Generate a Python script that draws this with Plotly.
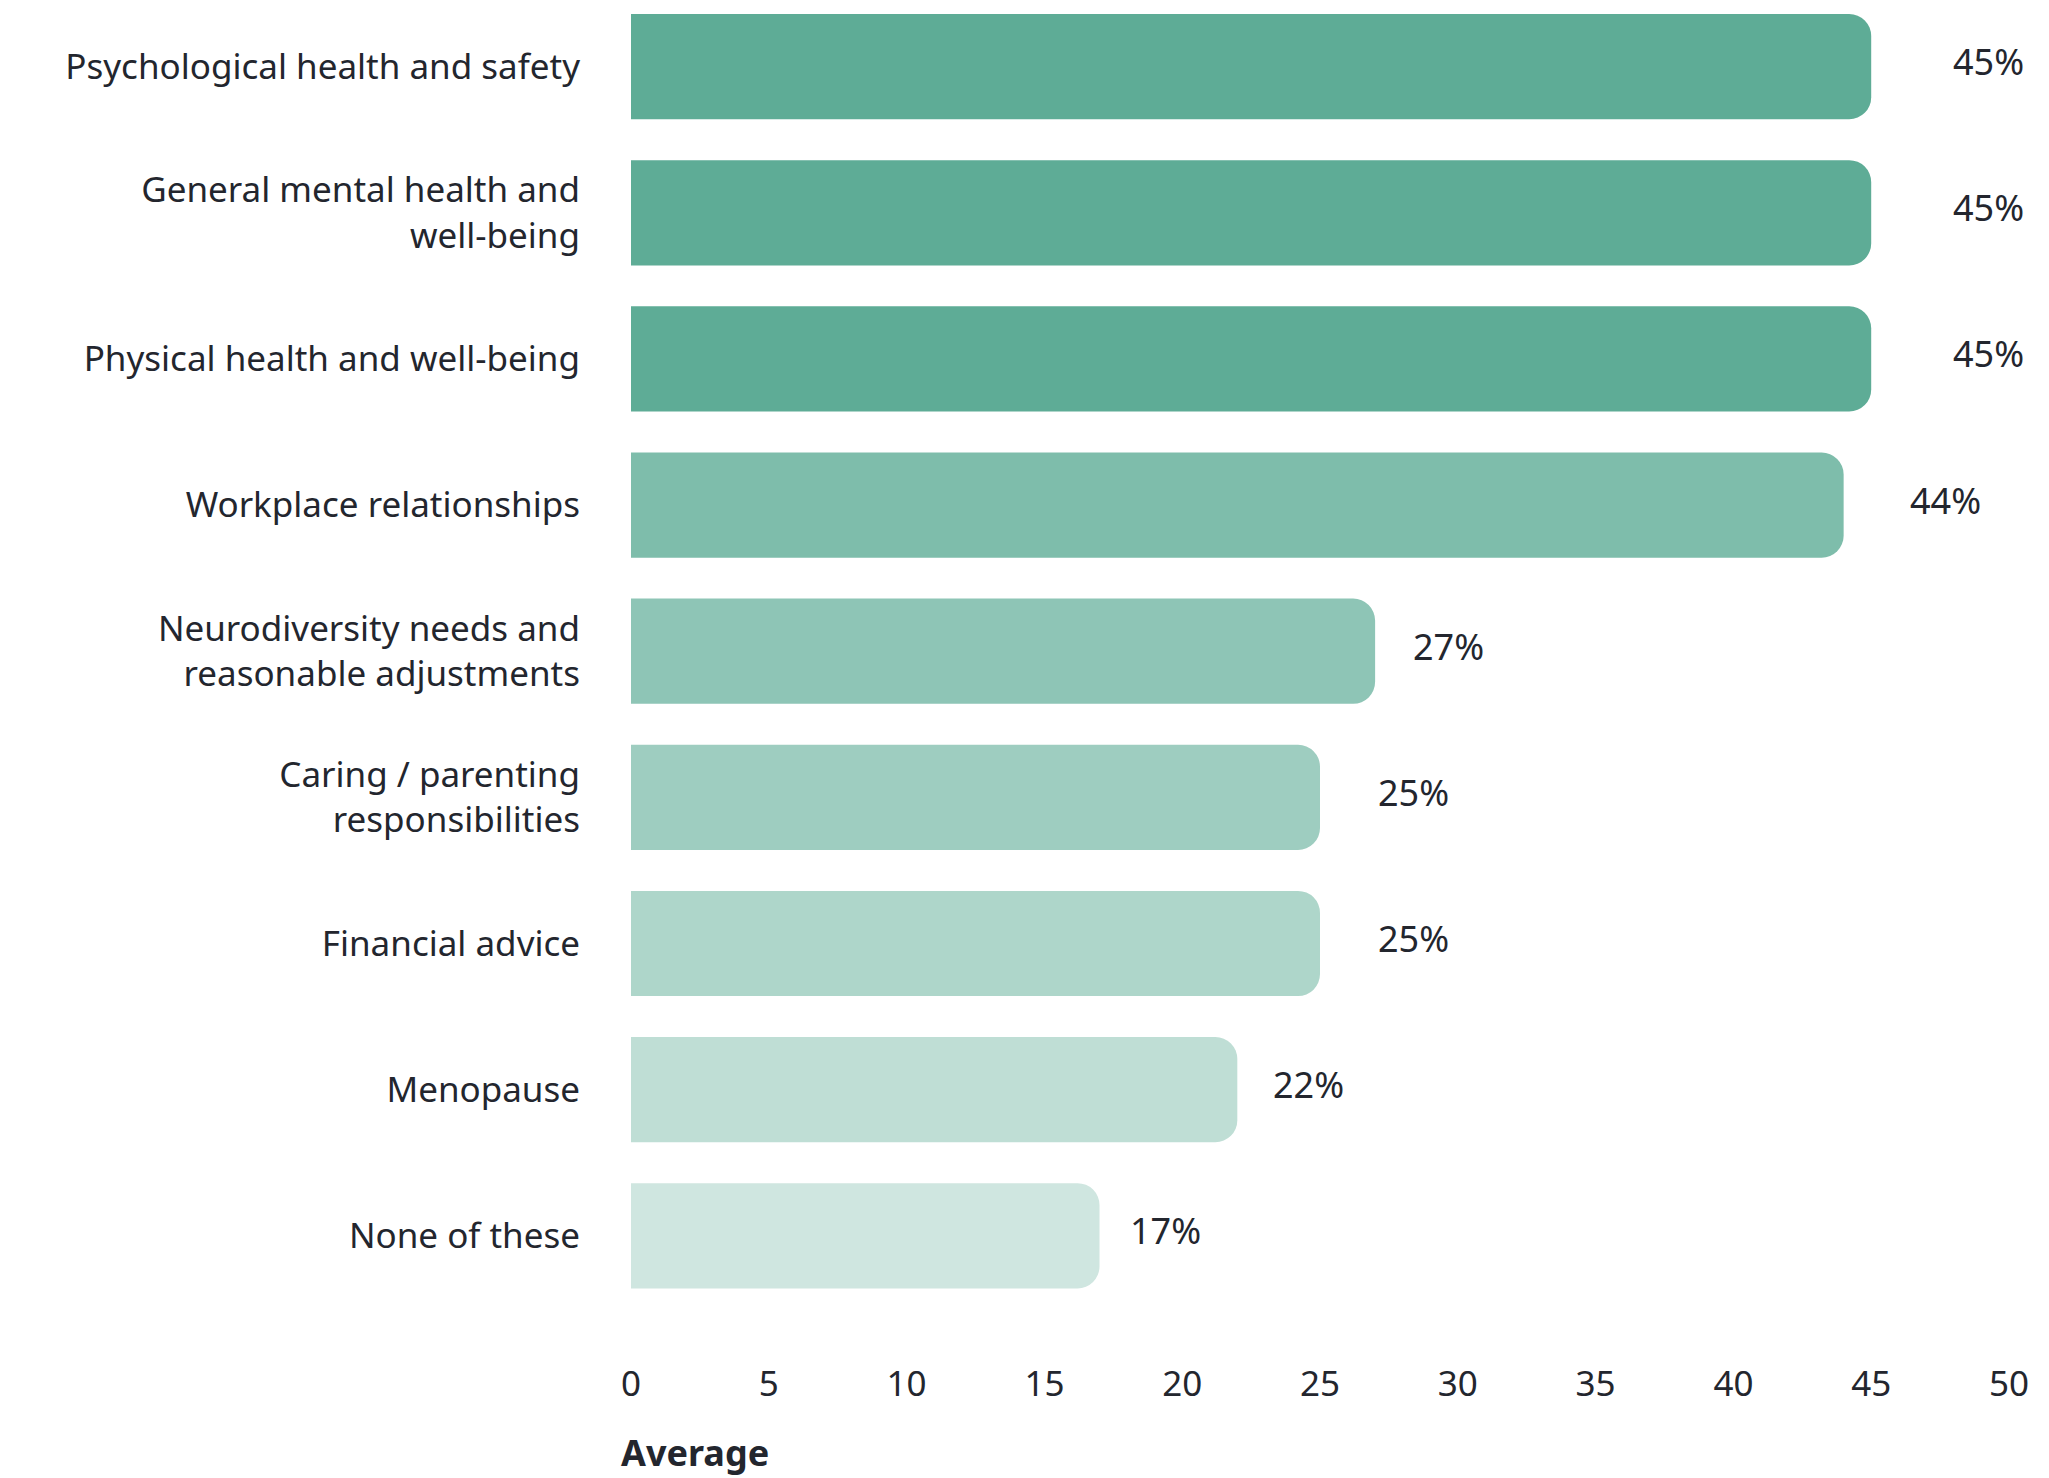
import plotly.graph_objects as go

# Support areas and share of respondents (%)
categories = [
    "Psychological health and safety",
    "General mental health and<br>well-being",
    "Physical health and well-being",
    "Workplace relationships",
    "Neurodiversity needs and<br>reasonable adjustments",
    "Caring / parenting<br>responsibilities",
    "Financial advice",
    "Menopause",
    "None of these",
]
values = [45, 45, 45, 44, 27, 25, 25, 22, 17]
value_labels = ["45%", "45%", "45%", "44%", "27%", "25%", "25%", "22%", "17%"]
tick_values = [0, 5, 10, 15, 20, 25, 30, 35, 40, 45, 50]

# Teal that fades down the list
base_rgb = (94, 172, 150)
fade = [1.0, 1.0, 1.0, 0.8, 0.7, 0.6, 0.5, 0.4, 0.3]


def tint(a):
    r, g, b = (round(255 - (255 - c) * a) for c in base_rgb)
    return f"rgb({r},{g},{b})"


bar_colors = [tint(a) for a in fade]
label_gap = [80, 80, 80, 64, 36, 56, 56, 34, 28]

text_color = "#23262e"
font_family = "Noto Sans, Open Sans, sans-serif"

fig = go.Figure(
    go.Bar(
        x=values,
        y=list(range(len(categories))),
        orientation="h",
        width=0.72,
        marker=dict(color=bar_colors, line=dict(width=0), cornerradius=22),
        hoverinfo="skip",
    )
)

for i, (v, lab) in enumerate(zip(values, value_labels)):
    fig.add_annotation(
        x=v, y=i, xref="x", yref="y",
        text=lab, showarrow=False,
        xanchor="left", yanchor="middle",
        xshift=label_gap[i], yshift=5,
        font=dict(size=36, color=text_color, family=font_family),
    )

fig.add_annotation(
    x=0, y=0, xref="paper", yref="paper",
    text="<b>Average</b>", showarrow=False,
    xanchor="left", yanchor="middle",
    xshift=-12, yshift=-92,
    font=dict(size=36, color=text_color, family=font_family),
)

fig.update_layout(
    width=2049,
    height=1478,
    margin=dict(l=631, r=40, t=0, b=118),
    paper_bgcolor="white",
    plot_bgcolor="white",
    showlegend=False,
    font=dict(family=font_family, color=text_color, size=35),
    xaxis=dict(
        range=[0, 50],
        tickvals=tick_values,
        ticktext=[str(t) for t in tick_values],
        showgrid=False,
        zeroline=False,
        showline=False,
        ticks="",
        tickfont=dict(size=35, color=text_color),
    ),
    yaxis=dict(
        range=[8.85, -0.456],
        tickvals=list(range(len(categories))),
        ticktext=categories,
        showgrid=False,
        zeroline=False,
        showline=False,
        ticks="",
        ticklabelstandoff=50,
        tickfont=dict(size=35, color=text_color),
    ),
)

fig.write_html("out.html")
